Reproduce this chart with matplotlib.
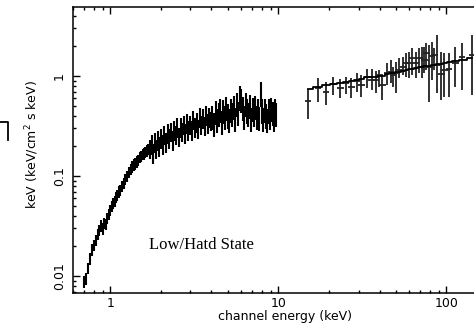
import numpy as np
import matplotlib
matplotlib.use('Agg')
import matplotlib.pyplot as plt
from matplotlib.lines import Line2D

# low energy spectrum (PCA-like), keV and keV (keV/cm2 s keV)
e_low = [0.70, 0.72, 0.74, 0.76, 0.78, 0.80, 0.82, 0.84, 0.86, 0.88, 0.90, 0.92, 0.94, 0.96,
         0.98, 1.00, 1.02, 1.04, 1.06, 1.08, 1.10, 1.12, 1.14, 1.17, 1.20, 1.23, 1.26, 1.29,
         1.32, 1.35, 1.38, 1.41, 1.44, 1.47, 1.50, 1.53, 1.56, 1.59, 1.62, 1.65, 1.68,
         1.72, 1.76, 1.80, 1.84, 1.88, 1.92, 1.96, 2.00, 2.05, 2.10, 2.15, 2.20, 2.25, 2.30,
         2.35, 2.40, 2.45, 2.50, 2.56, 2.62, 2.68, 2.74, 2.80, 2.86, 2.92, 2.98, 3.05, 3.12,
         3.19, 3.26, 3.33, 3.40, 3.48, 3.56, 3.64, 3.72, 3.80, 3.88, 3.96,
         4.05, 4.14, 4.23, 4.32, 4.41, 4.50, 4.60, 4.70, 4.80, 4.90, 5.00, 5.11, 5.22, 5.33,
         5.44, 5.55, 5.66, 5.78, 5.90, 6.02, 6.14, 6.26, 6.38, 6.50, 6.63, 6.76, 6.89, 7.02,
         7.15, 7.29, 7.43, 7.57, 7.71, 7.85, 8.00, 8.15, 8.30, 8.45, 8.60, 8.76, 8.92, 9.08,
         9.24, 9.40, 9.56, 9.72]
f_low = [0.0088, 0.0095, 0.0120, 0.0150, 0.0185, 0.0205, 0.0230, 0.0265, 0.0290, 0.0320,
         0.0300, 0.0340, 0.0330, 0.0380, 0.0420, 0.0460, 0.0500, 0.0540, 0.0560, 0.0620,
         0.0650, 0.0700, 0.0720, 0.0800, 0.0850, 0.0930, 0.1000, 0.1100, 0.1180, 0.1250,
         0.1300, 0.1330, 0.1400, 0.1450, 0.1550, 0.1580, 0.1650, 0.1680, 0.1750, 0.1800, 0.1870,
         0.19, 0.21, 0.17, 0.22, 0.19, 0.23, 0.20, 0.24, 0.21, 0.26, 0.22, 0.27, 0.24, 0.28,
         0.23, 0.29, 0.26, 0.31, 0.25, 0.31, 0.28, 0.33, 0.27, 0.34, 0.29, 0.33, 0.29, 0.37,
         0.31, 0.35, 0.30, 0.39, 0.33, 0.38, 0.32, 0.41, 0.34, 0.39, 0.36,
         0.40, 0.34, 0.44, 0.37, 0.42, 0.47, 0.35, 0.45, 0.40, 0.49, 0.41, 0.37, 0.47, 0.42,
         0.50, 0.38, 0.53, 0.43, 0.62, 0.58, 0.49, 0.40, 0.53, 0.46, 0.42, 0.51, 0.38, 0.48,
         0.42, 0.50, 0.40, 0.47, 0.39, 0.68, 0.46, 0.38, 0.47, 0.41, 0.37, 0.46, 0.40, 0.48,
         0.43, 0.38, 0.46, 0.42]
ferr_low = [0.13] * 41 + [0.22] * 39 + [0.27] * 46

# high energy spectrum (HEXTE-like) with model
e_high = [15.0, 17.2, 19.2, 21.2, 23.4, 25.3, 27.2, 29.4, 31.2, 33.9, 36.0, 38.0, 39.9,
          41.6, 44.4, 46.9, 48.2, 50.4, 52.5, 55.5, 57.8, 60.2, 62.8, 66.1, 69.1, 72.0,
          74.0, 76.0, 79.2, 82.2, 84.8, 88.1, 93.4, 97.3, 104, 113, 124, 142]
f_high = [0.56, 0.76, 0.69, 0.83, 0.76, 0.85, 0.78, 0.89, 0.81, 0.98, 0.91, 0.91, 1.02,
          0.81, 1.07, 1.10, 1.02, 1.07, 1.15, 1.23, 1.35, 1.35, 1.51, 1.35, 1.51, 1.23,
          1.45, 1.70, 1.23, 1.60, 1.62, 1.29, 1.05, 1.15, 1.17, 1.35, 1.55, 1.62]
hi_up = [0.74, 0.95, 0.87, 0.98, 0.93, 0.98, 0.95, 1.07, 1.02, 1.17, 1.17, 1.12, 1.15,
         1.02, 1.35, 1.45, 1.23, 1.38, 1.51, 1.55, 1.70, 1.74, 1.91, 1.74, 1.91, 1.95,
         1.95, 2.14, 2.04, 2.19, 1.91, 2.57, 1.74, 1.70, 1.70, 1.95, 2.14, 2.57]
hi_lo = [0.37, 0.55, 0.51, 0.65, 0.60, 0.66, 0.60, 0.69, 0.62, 0.76, 0.72, 0.68, 0.78,
         0.575, 0.81, 0.85, 0.78, 0.68, 0.95, 1.02, 0.98, 0.95, 1.02, 0.95, 1.07, 0.95,
         1.07, 1.15, 0.55, 0.91, 1.15, 0.68, 0.575, 0.62, 0.62, 0.78, 0.72, 0.64]
model_high = [0.74, 0.78, 0.81, 0.83, 0.85, 0.87, 0.89, 0.91, 0.93, 0.97, 0.98, 0.99, 1.00,
              1.01, 1.04, 1.07, 1.08, 1.10, 1.11, 1.13, 1.15, 1.17, 1.19, 1.21, 1.22, 1.24,
              1.25, 1.25, 1.26, 1.28, 1.30, 1.31, 1.33, 1.34, 1.37, 1.40, 1.44, 1.50]

fig = plt.figure(figsize=(4.74, 3.25), dpi=100)
ax = fig.add_axes([73/474, 32/325, 424/474, 286/325])

e_low = np.array(e_low)
f_low = np.array(f_low)
yerr_low = f_low * np.array(ferr_low)
ax.errorbar(e_low, f_low, yerr=yerr_low, xerr=e_low * 0.008, fmt='none',
            ecolor='black', elinewidth=1.5, capsize=0)

e_high = np.array(e_high)
f_high = np.array(f_high)
yerr_high = [f_high - np.array(hi_lo), np.array(hi_up) - f_high]
ax.errorbar(e_high, f_high, yerr=yerr_high, xerr=e_high * 0.045, fmt='none',
            ecolor='#222222', elinewidth=1.3, capsize=0)
ax.step(e_high, model_high, where='mid', color='black', lw=1.3)

ax.set_xscale('log')
ax.set_yscale('log')
ax.set_xlim(0.6, 200)
ax.set_ylim(0.0068, 4.9)

ax.set_xticks([1, 10, 100])
ax.set_xticklabels(['1', '10', '100'])
ax.set_yticks([0.01, 0.1, 1])
ax.set_yticklabels(['0.01', '0.1', '1'], rotation=90, va='center')
ax.tick_params(which='both', direction='in', top=True, right=False, labelsize=9, width=1)
ax.tick_params(which='major', length=5)
ax.tick_params(which='minor', length=2.5)
ax.tick_params(axis='y', pad=5)
ax.tick_params(axis='x', pad=3)
for s in ax.spines.values():
    s.set_linewidth(1.1)

ax.set_xlabel('channel energy (keV)', fontsize=9, labelpad=0)
fig.text(32/474, 1 - 145/325, 'keV (keV/cm$^2$ s keV)', rotation=90,
         ha='center', va='center', fontsize=9)
ax.text(0.18, 0.168, 'Low/Hatd State', transform=ax.transAxes,
        family='Liberation Serif', fontsize=12, va='center')

# stray corner mark at the left edge
fig.add_artist(Line2D([0, 8/474, 8/474], [1 - 122/325, 1 - 122/325, 1 - 140/325],
                      color='black', lw=1.3))

plt.savefig('out.png', dpi=100)
